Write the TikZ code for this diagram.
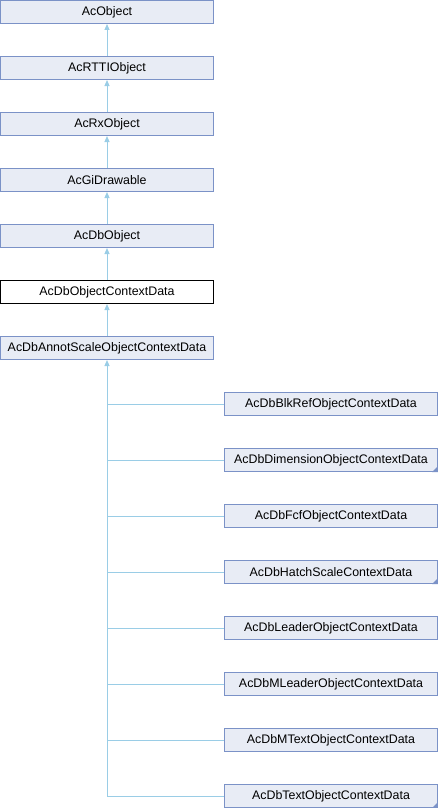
\documentclass[tikz,border=0pt]{standalone}
\usepackage{fontspec}
\setmainfont{Liberation Sans}
\usetikzlibrary{arrows.meta}
\definecolor{boxfill}{HTML}{E8ECF5}
\definecolor{boxline}{HTML}{7B92C7}
\definecolor{edgecol}{HTML}{9ACDE6}
\begin{document}
\begin{tikzpicture}[x=1pt,y=-1pt,
  cls/.style={draw=boxline, fill=boxfill, line width=1pt, minimum width=213pt, minimum height=23pt, inner sep=0pt, font=\fontsize{12.4}{14}\selectfont},
  cur/.style={cls, draw=black, fill=white},
  edgeline/.style={draw=edgecol, line width=1pt},
  inh/.style={edgeline, -{Triangle[length=6pt,width=5pt]}},
  more/.style={fill=boxline}
]
\useasboundingbox (0,0) rectangle (438,808);
\node[cls] (ob) at (107,12) {AcObject};
\node[cls] (rtti) at (107,68) {AcRTTIObject};
\node[cls] (rx) at (107,124) {AcRxObject};
\node[cls] (gi) at (107,180) {AcGiDrawable};
\node[cls] (dbo) at (107,236) {AcDbObject};
\node[cur] (ocd) at (107,292) {AcDbObjectContextData};
\node[cls] (ann) at (107,348) {AcDbAnnotScaleObjectContextData};
\node[cls] (blk) at (331,404) {AcDbBlkRefObjectContextData};
\node[cls] (dim) at (331,460) {AcDbDimensionObjectContextData};
\node[cls] (fcf) at (331,516) {AcDbFcfObjectContextData};
\node[cls] (hat) at (331,572) {AcDbHatchScaleContextData};
\node[cls] (lea) at (331,628) {AcDbLeaderObjectContextData};
\node[cls] (mle) at (331,684) {AcDbMLeaderObjectContextData};
\node[cls] (mtx) at (331,740) {AcDbMTextObjectContextData};
\node[cls] (txt) at (331,796) {AcDbTextObjectContextData};
\foreach \n in {dim,hat,txt}
  \fill[more] ([yshift=6pt]\n.south east) -- (\n.south east) -- ([xshift=-6pt]\n.south east) -- cycle;
\draw[inh] (rtti) -- (ob);
\draw[inh] (rx) -- (rtti);
\draw[inh] (gi) -- (rx);
\draw[inh] (dbo) -- (gi);
\draw[inh] (ocd) -- (dbo);
\draw[inh] (ann) -- (ocd);
\draw[edgeline, {Triangle[length=6pt,width=5pt]}-] (ann.south) -- (ann.south |- txt.west) -- (txt.west);
\foreach \n in {blk,dim,fcf,hat,lea,mle,mtx}
  \draw[edgeline] (ann.south |- \n.west) -- (\n.west);
\end{tikzpicture}
\end{document}
